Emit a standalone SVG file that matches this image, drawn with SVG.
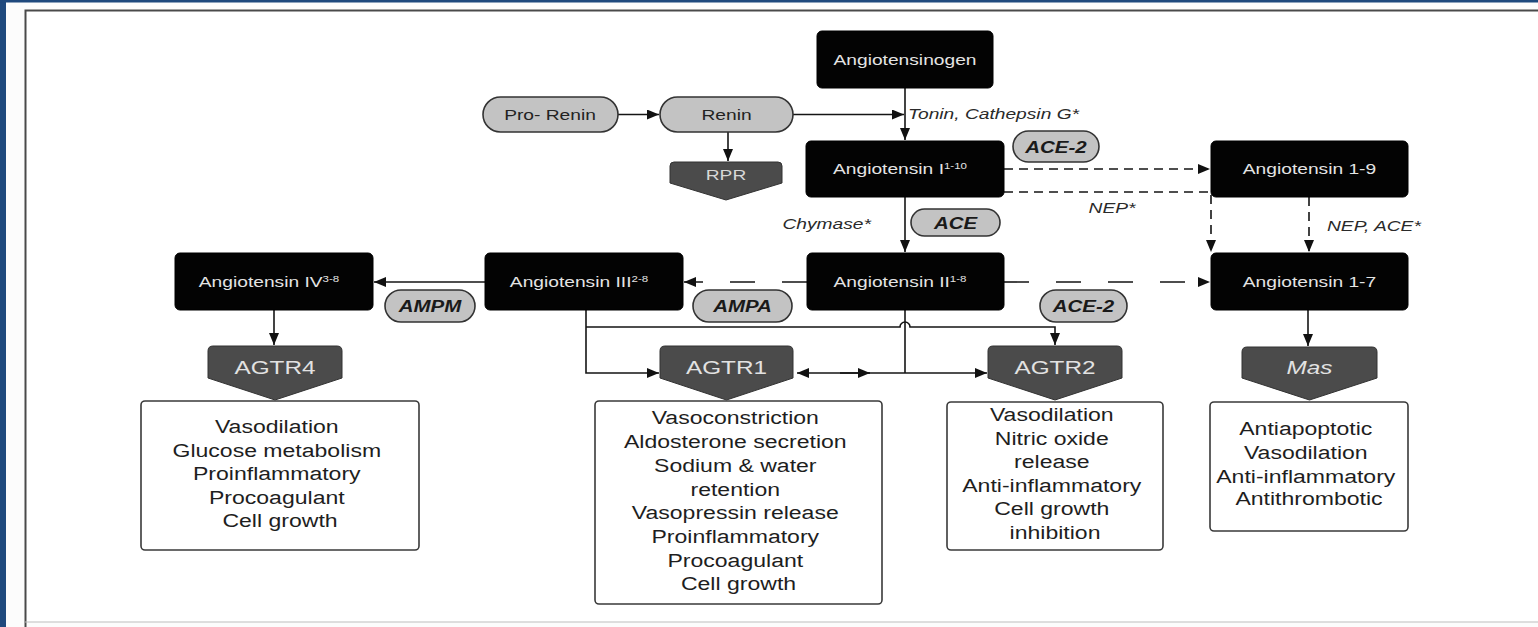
<svg xmlns="http://www.w3.org/2000/svg" width="1538" height="627" viewBox="0 0 1538 627">
<style>
.bk{fill:#030303;stroke:#000;stroke-width:1}
.bt{font-family:"Liberation Sans",Arial,sans-serif;font-size:15px;fill:#e4e4e4;text-anchor:middle}
.sup{font-size:9px}
.pill{fill:#c3c3c3;stroke:#333;stroke-width:1.6}
.pt{font-family:"Liberation Sans",Arial,sans-serif;font-size:16px;font-weight:bold;font-style:italic;fill:#1a1a1a;text-anchor:middle}
.rc{fill:#4b4b4b;stroke:#333;stroke-width:1}
.rt{font-family:"Liberation Sans",Arial,sans-serif;font-size:19px;fill:#e2e2e2;text-anchor:middle}
.box{fill:#fff;stroke:#3a3a3a;stroke-width:1.6}
.xt{font-family:"Liberation Sans",Arial,sans-serif;font-size:18px;fill:#1e1e1e;text-anchor:middle}
.lbl{font-family:"Liberation Sans",Arial,sans-serif;font-size:15px;font-style:italic;fill:#2a2a2a}
.ln{stroke:#151515;stroke-width:1.6;fill:none}
.sd{stroke-dasharray:9 6}
.ld{stroke-dasharray:25 27}
</style>
<defs>
<marker id="ah" viewBox="0 0 12 10" refX="12" refY="5" markerWidth="12" markerHeight="10" markerUnits="userSpaceOnUse" orient="auto">
<path d="M0,0 L12,5 L0,10 Z" fill="#111"/>
</marker>
<marker id="ahs" viewBox="0 0 12 10" refX="0" refY="5" markerWidth="12" markerHeight="10" markerUnits="userSpaceOnUse" orient="auto-start-reverse">
<path d="M0,0 L12,5 L0,10 Z" fill="#111"/>
</marker>
</defs>

<!-- frame -->
<rect x="0" y="0" width="1538" height="627" fill="#fcfcfc"/>
<rect x="0" y="0" width="6" height="627" fill="#1f497d"/>
<rect x="0" y="0" width="1538" height="2.5" fill="#1f497d"/>
<rect x="25" y="10" width="1513" height="612" fill="#fff"/>
<path d="M25.5,627 V10.5 H1538" fill="none" stroke="#4a4a4a" stroke-width="2"/>
<line x1="25" y1="622" x2="1538" y2="622" stroke="#bdbdbd" stroke-width="1"/>

<!-- connectors -->
<g id="connectors">
<line class="ln" x1="905" y1="88" x2="905" y2="140" marker-end="url(#ah)"/>
<line class="ln" x1="618" y1="114.5" x2="659" y2="114.5" marker-end="url(#ah)"/>
<line class="ln" x1="793" y1="114.5" x2="904" y2="114.5" marker-end="url(#ah)"/>
<line class="ln" x1="728" y1="132" x2="728" y2="161" marker-end="url(#ah)"/>
<line class="ln" x1="905" y1="197" x2="905" y2="252" marker-end="url(#ah)"/>
<line class="ln sd" x1="1004" y1="169" x2="1210" y2="169" marker-end="url(#ah)"/>
<path class="ln sd" d="M1004,192 H1211 V252" marker-end="url(#ah)"/>
<line class="ln sd" x1="1309" y1="197" x2="1309" y2="252" marker-end="url(#ah)"/>
<line class="ln ld" x1="1004" y1="282" x2="1210" y2="282" marker-end="url(#ah)"/>
<line class="ln ld" x1="807" y1="282" x2="684" y2="282" marker-end="url(#ah)"/>
<line class="ln" x1="485" y1="282" x2="374" y2="282" marker-end="url(#ah)"/>
<line class="ln" x1="274" y1="310" x2="274" y2="345" marker-end="url(#ah)"/>
<line class="ln" x1="1308" y1="310" x2="1308" y2="346" marker-end="url(#ah)"/>
<path class="ln" d="M586,310 V373 H659" marker-end="url(#ah)"/>
<path class="ln" d="M586,327 H900 A5,5 0 0 1 910,327 H1055 V345" marker-end="url(#ah)"/>
<line class="ln" x1="905" y1="310" x2="905" y2="373"/>
<line class="ln" x1="905" y1="373" x2="797" y2="373" marker-end="url(#ah)"/>
<line class="ln" x1="840" y1="373" x2="870" y2="373" marker-end="url(#ah)"/>
<line class="ln" x1="905" y1="373" x2="987" y2="373" marker-end="url(#ah)"/>
</g>

<!-- labels -->
<g id="labels">
<text class="lbl" transform="translate(908,119) scale(1.28,1)">Tonin, Cathepsin G*</text>
<text class="lbl" text-anchor="end" transform="translate(871,229) scale(1.28,1)">Chymase*</text>
<text class="lbl" text-anchor="middle" transform="translate(1112,213) scale(1.28,1)">NEP*</text>
<text class="lbl" transform="translate(1327,231) scale(1.28,1)">NEP, ACE*</text>
</g>

<!-- nodes -->
<g id="angiotensinogen">
<rect class="bk" x="817" y="31" width="176" height="57" rx="5"/>
<text class="bt" transform="translate(905,65) scale(1.28,1)">Angiotensinogen</text>
</g>
<g id="prorenin">
<rect class="pill" x="483" y="97" width="135" height="35" rx="17.5"/>
<text class="bt" style="fill:#222" transform="translate(550,120) scale(1.28,1)">Pro- Renin</text>
</g>
<g id="renin">
<rect class="pill" x="660" y="97" width="133" height="35" rx="17.5"/>
<text class="bt" style="fill:#222" transform="translate(726.5,120) scale(1.28,1)">Renin</text>
</g>
<g id="rpr">
<path class="rc" d="M674,162 H778 Q782,162 782,166 V183 L726,200 L670,183 V166 Q670,162 674,162 Z"/>
<text class="bt" style="fill:#d8d8d8" transform="translate(726,180) scale(1.28,1)">RPR</text>
</g>
<g id="angI">
<rect class="bk" x="806" y="141" width="198" height="56" rx="5"/>
<text class="bt" transform="translate(900,174) scale(1.28,1)">Angiotensin I<tspan class="sup" dy="-5">1-10</tspan></text>
</g>
<g id="ace2a">
<rect class="pill" x="1013" y="131" width="86" height="31" rx="15.5"/>
<text class="pt" transform="translate(1056,152.5) scale(1.28,1)">ACE-2</text>
</g>
<g id="ace">
<rect class="pill" x="911" y="209" width="89" height="27" rx="13.5"/>
<text class="pt" transform="translate(955.5,228.5) scale(1.28,1)">ACE</text>
</g>
<g id="ang19">
<rect class="bk" x="1211" y="141" width="197" height="56" rx="5"/>
<text class="bt" transform="translate(1309.5,174) scale(1.28,1)">Angiotensin 1-9</text>
</g>
<g id="angIV">
<rect class="bk" x="175" y="253" width="198" height="57" rx="5"/>
<text class="bt" transform="translate(269,287) scale(1.28,1)">Angiotensin IV<tspan class="sup" dy="-5">3-8</tspan></text>
</g>
<g id="angIII">
<rect class="bk" x="485" y="253" width="198" height="57" rx="5"/>
<text class="bt" transform="translate(579,287) scale(1.28,1)">Angiotensin III<tspan class="sup" dy="-5">2-8</tspan></text>
</g>
<g id="angII">
<rect class="bk" x="807" y="253" width="197" height="57" rx="5"/>
<text class="bt" transform="translate(900,287) scale(1.28,1)">Angiotensin II<tspan class="sup" dy="-5">1-8</tspan></text>
</g>
<g id="ang17">
<rect class="bk" x="1211" y="253" width="197" height="57" rx="5"/>
<text class="bt" transform="translate(1309.5,287) scale(1.28,1)">Angiotensin 1-7</text>
</g>
<g id="ampm">
<rect class="pill" x="385" y="290" width="90" height="32" rx="16"/>
<text class="pt" transform="translate(430,312) scale(1.28,1)">AMPM</text>
</g>
<g id="ampa">
<rect class="pill" x="693" y="290" width="99" height="32" rx="16"/>
<text class="pt" transform="translate(742.5,312) scale(1.28,1)">AMPA</text>
</g>
<g id="ace2b">
<rect class="pill" x="1040" y="290" width="87" height="32" rx="16"/>
<text class="pt" transform="translate(1083.5,312) scale(1.28,1)">ACE-2</text>
</g>

<g id="agtr4">
<path class="rc" d="M213,346 H337 Q342,346 342,351 V378 L275,400 L208,378 V351 Q208,346 213,346 Z"/>
<text class="rt" transform="translate(275,374) scale(1.28,1)">AGTR4</text>
</g>
<g id="agtr1">
<path class="rc" d="M665,346 H788 Q793,346 793,351 V378 L726.5,400 L660,378 V351 Q660,346 665,346 Z"/>
<text class="rt" transform="translate(726.5,374) scale(1.28,1)">AGTR1</text>
</g>
<g id="agtr2">
<path class="rc" d="M993,346 H1117 Q1122,346 1122,351 V378 L1055,400 L988,378 V351 Q988,346 993,346 Z"/>
<text class="rt" transform="translate(1055,374) scale(1.28,1)">AGTR2</text>
</g>
<g id="mas">
<path class="rc" d="M1247,347 H1372 Q1377,347 1377,352 V378 L1309.5,400 L1242,378 V352 Q1242,347 1247,347 Z"/>
<text class="rt" font-style="italic" transform="translate(1309.5,374) scale(1.28,1)">Mas</text>
</g>

<g id="agtr4-effects">
<rect class="box" x="141" y="401" width="278" height="149" rx="4"/>
<text class="xt" transform="translate(280,0) scale(1.28,1)">
<tspan x="0" y="433">Vasodilation</tspan>
<tspan x="0" y="457">Glucose metabolism</tspan>
<tspan x="0" y="480">Proinflammatory</tspan>
<tspan x="0" y="504">Procoagulant</tspan>
<tspan x="0" y="527">Cell growth</tspan>
</text>
</g>
<g id="agtr1-effects">
<rect class="box" x="595" y="401" width="287" height="203" rx="4"/>
<text class="xt" transform="translate(738.5,0) scale(1.28,1)">
<tspan x="0" y="424">Vasoconstriction</tspan>
<tspan x="0" y="448">Aldosterone secretion</tspan>
<tspan x="0" y="472">Sodium &amp; water</tspan>
<tspan x="0" y="496">retention</tspan>
<tspan x="0" y="519">Vasopressin release</tspan>
<tspan x="0" y="543">Proinflammatory</tspan>
<tspan x="0" y="567">Procoagulant</tspan>
<tspan x="0" y="590">Cell growth</tspan>
</text>
</g>
<g id="agtr2-effects">
<rect class="box" x="947" y="402" width="216" height="148" rx="4"/>
<text class="xt" transform="translate(1055,0) scale(1.28,1)">
<tspan x="0" y="421">Vasodilation</tspan>
<tspan x="0" y="445">Nitric oxide</tspan>
<tspan x="0" y="468">release</tspan>
<tspan x="0" y="492">Anti-inflammatory</tspan>
<tspan x="0" y="515">Cell growth</tspan>
<tspan x="0" y="539">inhibition</tspan>
</text>
</g>
<g id="mas-effects">
<rect class="box" x="1210" y="402" width="198" height="129" rx="4"/>
<text class="xt" transform="translate(1309,0) scale(1.28,1)">
<tspan x="0" y="435">Antiapoptotic</tspan>
<tspan x="0" y="459">Vasodilation</tspan>
<tspan x="0" y="483">Anti-inflammatory</tspan>
<tspan x="0" y="505">Antithrombotic</tspan>
</text>
</g>
</svg>
